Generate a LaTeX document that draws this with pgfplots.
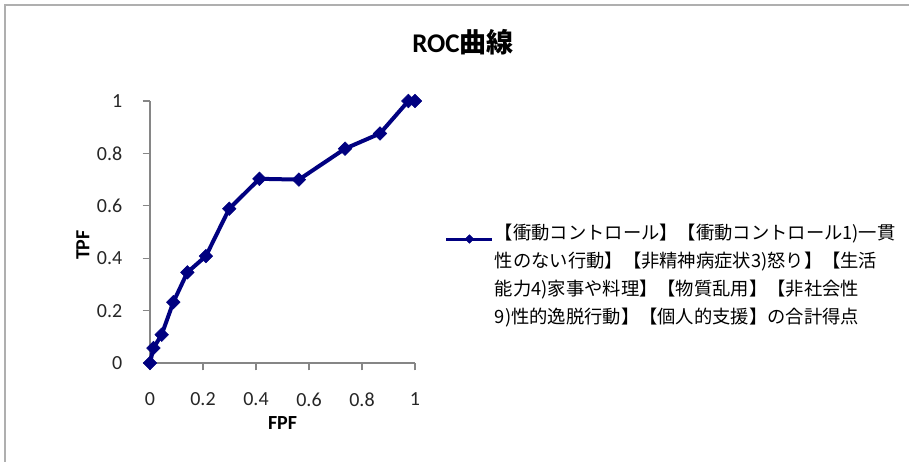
\documentclass[border=0pt]{standalone}
\usepackage{fontspec}
\setmainfont{Carlito}
\newfontfamily\jp{Noto Sans CJK JP}
\usepackage{pgfplots}
\pgfplotsset{compat=1.18}
\definecolor{rocnavy}{RGB}{0,0,128}
\definecolor{axisgray}{RGB}{134,134,134}
\definecolor{framegray}{RGB}{175,175,175}

\begin{document}
\begin{tikzpicture}[x=1pt,y=1pt]
\useasboundingbox (0,0) rectangle (909,462);
\fill[white] (0,0) rectangle (909,462);
% chart area border
\draw[framegray, line width=1.5pt] (5,0) -- (5,457) -- (909,457);
% chart title
\node[font=\fontsize{27}{30}\selectfont\bfseries, inner sep=0pt] at (463,420) {ROC{\jp 曲線}};
\begin{axis}[
  at={(150pt,99pt)}, anchor=south west,
  scale only axis, width=265pt, height=262pt,
  xmin=0, xmax=1, ymin=0, ymax=1,
  clip=false,
  axis x line*=bottom, axis y line*=left,
  axis line style={axisgray, line width=1.2pt},
  tick align=outside, major tick length=7.5pt,
  tick style={axisgray, line width=1.2pt},
  xtick={0,0.2,0.4,0.6,0.8,1},
  ytick={0,0.2,0.4,0.6,0.8,1},
  /pgf/number format/assume math mode=true,
  tick label style={font=\fontsize{20}{22}\selectfont, text=black!85},
  yticklabel style={anchor=east, inner sep=0pt, xshift=-20pt},
  xticklabel style={anchor=center, inner sep=0pt, yshift=-29pt},
  xlabel={FPF}, ylabel={TPF},
  label style={font=\fontsize{20}{22}\selectfont\bfseries},
  xlabel style={at={(axis description cs:0.5,-0.229)}, anchor=center},
  ylabel style={at={(axis description cs:-0.253,0.45)}, anchor=center},
  legend style={at={(axis description cs:1.113,0.548)}, anchor=north west,
    draw=none, fill=none, inner sep=0pt, outer sep=0pt, column sep=1pt,
    font=\jp\fontsize{18.3}{28}\selectfont,
    cells={anchor=base west}, nodes={inner sep=0pt}},
  legend image code/.code={%
    \draw[#1, mark repeat=2, mark phase=2, line width=3pt, mark size=3pt]
      plot coordinates {(0pt,0pt) (23pt,0pt) (46pt,0pt)};},
]
\addplot[rocnavy, line width=4pt, mark=square*, mark size=4.8pt,
  mark options={rotate=45, solid, line width=0.5pt}]
  coordinates {
    (0,0) (0.013,0.057) (0.044,0.108) (0.088,0.232) (0.141,0.346)
    (0.211,0.408) (0.299,0.589) (0.413,0.703) (0.562,0.700)
    (0.736,0.818) (0.868,0.876) (0.975,1.0) (1.0,1.0)
  };
\addlegendentry{\begin{tabular}[t]{@{}l@{}}%
【衝動コントロール】【衝動コントロール1)一貫\\
性のない行動】【非精神病症状3)怒り】【生活\\
能力4)家事や料理】【物質乱用】【非社会性\\
9)性的逸脱行動】【個人的支援】の合計得点\end{tabular}}
\end{axis}
\end{tikzpicture}
\end{document}
